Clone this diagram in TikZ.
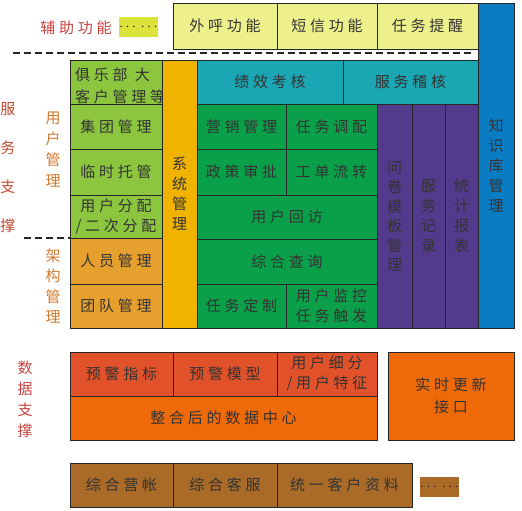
\documentclass[tikz,border=0pt]{standalone}
\usepackage{fontspec}
\newfontfamily\cjk[LetterSpace=25]{Noto Sans CJK SC}
\newfontfamily\cjkv{Noto Sans CJK SC}
\definecolor{cYel}{HTML}{EEF08C}
\definecolor{cYelS}{HTML}{DCE43C}
\definecolor{cLGreen}{HTML}{8CC63F}
\definecolor{cGold}{HTML}{F0B400}
\definecolor{cTeal}{HTML}{1AA6B2}
\definecolor{cGreen}{HTML}{0AA04A}
\definecolor{cPurple}{HTML}{543A8C}
\definecolor{cBlue}{HTML}{0A7CC4}
\definecolor{cOrangeL}{HTML}{E6A02E}
\definecolor{cRed}{HTML}{E2522A}
\definecolor{cOrange}{HTML}{EE6A08}
\definecolor{cBrown}{HTML}{AA6A28}
\definecolor{tRed}{HTML}{C84040}
\definecolor{tBrownRed}{HTML}{C04A30}
\definecolor{tOrange}{HTML}{D07A30}
\begin{document}
\begin{tikzpicture}[x=1pt,y=-1pt,
  box/.style={draw=black!85, line width=0.7pt, inner sep=0pt, outer sep=0pt,
    anchor=north west, text=black!80, align=center,
    font=\cjk\fontsize{15}{20}\selectfont},
  sz/.style 2 args={minimum width=#1pt, minimum height=#2pt},
  vtext/.style={inner sep=0pt, align=center, font=\cjkv\fontsize{15}{20}\selectfont},
  lab/.style={inner sep=0pt, font=\cjk\fontsize{15}{20}\selectfont},
  dotbox/.style={draw=none, inner sep=0pt, anchor=north west, text=black!90,
    minimum width=32pt, minimum height=20pt, font=\fontsize{14}{14}\selectfont},
  dashline/.style={line width=2.5pt, dash pattern=on 7pt off 4pt, black!85}]
\useasboundingbox (0,0) rectangle (522,511);
% top auxiliary row
\node[lab, text=tRed] (fuzhu) at (76,28) {辅助功能};
\node[dotbox, fill=cYelS] (fdots) at (119,17) {$\cdots\,\cdots$};
\node[box, fill=cYel, sz={104}{46}] (waihu) at (173,3) {外呼功能};
\node[box, fill=cYel, sz={100}{46}] (duanxin) at (277,3) {短信功能};
\node[box, fill=cYel, sz={101}{46}] (tixing) at (377,3) {任务提醒};
\node[box, fill=cBlue, sz={36}{325}, font=\cjkv\fontsize{15}{20}\selectfont] (zhishi) at (478,3) {知\\识\\库\\管\\理};
% dashed separators
\coordinate (da1) at (13,53);
\coordinate (da2) at (474,53);
\draw[dashline] (da1) -- (da2);
\coordinate (db1) at (24,238);
\coordinate (db2) at (70,238);
\draw[dashline] (db1) -- (db2);
% left labels
\node[vtext, text=tBrownRed, font=\cjkv\fontsize{15}{39}\selectfont] (fuwu) at (8,168) {服\\务\\支\\撑};
\node[vtext, text=tOrange, font=\cjkv\fontsize{15}{21}\selectfont] (yonghu) at (53,150) {用\\户\\管\\理};
\node[vtext, text=tOrange, font=\cjkv\fontsize{15}{20.5}\selectfont] (jiagou) at (53,286) {架\\构\\管\\理};
\node[vtext, text=tRed, font=\cjkv\fontsize{15}{21}\selectfont] (shuju) at (25,399) {数\\据\\支\\撑};
% left light green column
\node[box, fill=cLGreen, sz={92}{44}] (club) at (70,60) {};
\node[lab, anchor=west, align=left, text=black!80, font=\cjk\fontsize{15}{22}\selectfont] (clubt) at (75,86) {俱乐部 大\\客户管理等};
\node[box, fill=cLGreen, sz={92}{45}] (jituan) at (70,104) {集团管理};
\node[box, fill=cLGreen, sz={92}{46}] (linshi) at (70,149) {临时托管};
\node[box, fill=cLGreen, sz={92}{43}] (fenpei) at (70,195) {用户分配\\/二次分配};
\node[box, fill=cOrangeL, sz={92}{46}] (renyuan) at (70,238) {人员管理};
\node[box, fill=cOrangeL, sz={92}{44}] (tuandui) at (70,284) {团队管理};
% system column
\node[box, fill=cGold, sz={35}{268}, font=\cjkv\fontsize{15}{20}\selectfont] (xitong) at (162,60) {系\\统\\管\\理};
% teal row
\node[box, fill=cTeal, sz={146}{44}] (jixiao) at (197,60) {绩效考核};
\node[box, fill=cTeal, sz={135}{44}] (jihe) at (343,60) {服务稽核};
% green area
\node[box, fill=cGreen, sz={89}{45}] (yingxiao) at (197,104) {营销管理};
\node[box, fill=cGreen, sz={91}{45}] (diaopei) at (286,104) {任务调配};
\node[box, fill=cGreen, sz={89}{46}] (zhengce) at (197,149) {政策审批};
\node[box, fill=cGreen, sz={91}{46}] (gongdan) at (286,149) {工单流转};
\node[box, fill=cGreen, sz={180}{44}] (huifang) at (197,195) {用户回访};
\node[box, fill=cGreen, sz={180}{45}] (chaxun) at (197,239) {综合查询};
\node[box, fill=cGreen, sz={89}{44}] (dingzhi) at (197,284) {任务定制};
\node[box, fill=cGreen, sz={91}{44}] (jiankong) at (286,284) {用户监控\\任务触发};
% purple columns
\node[box, fill=cPurple, sz={35}{224}, font=\cjkv\fontsize{15}{19.5}\selectfont] (wenjuan) at (377,104) {问\\卷\\模\\板\\管\\理};
\node[box, fill=cPurple, sz={33}{224}, font=\cjkv\fontsize{15}{20}\selectfont] (jilu) at (412,104) {服\\务\\记\\录};
\node[box, fill=cPurple, sz={33}{224}, font=\cjkv\fontsize{15}{20}\selectfont] (baobiao) at (445,104) {统\\计\\报\\表};
% data support
\node[box, fill=cRed, sz={103}{44}] (zhibiao) at (70,352) {预警指标};
\node[box, fill=cRed, sz={104}{44}] (moxing) at (173,352) {预警模型};
\node[box, fill=cRed, sz={100}{44}] (xifen) at (277,352) {用户细分\\/用户特征};
\node[box, fill=cOrange, sz={307}{44}] (zhongxin) at (70,396) {整合后的数据中心};
\node[box, fill=cOrange, sz={126}{88}, font=\cjk\fontsize{15}{22}\selectfont] (shishi) at (388,352) {实时更新\\接口};
% bottom row
\node[box, fill=cBrown, sz={103}{44}] (yingzhang) at (70,463) {综合营帐};
\node[box, fill=cBrown, sz={104}{44}] (kefu) at (173,463) {综合客服};
\node[box, fill=cBrown, sz={135}{44}] (ziliao) at (277,463) {统一客户资料};
\node[dotbox, fill=cBrown] (bdots) at (420,477) {$\cdots\,\cdots$};
\end{tikzpicture}
\end{document}
